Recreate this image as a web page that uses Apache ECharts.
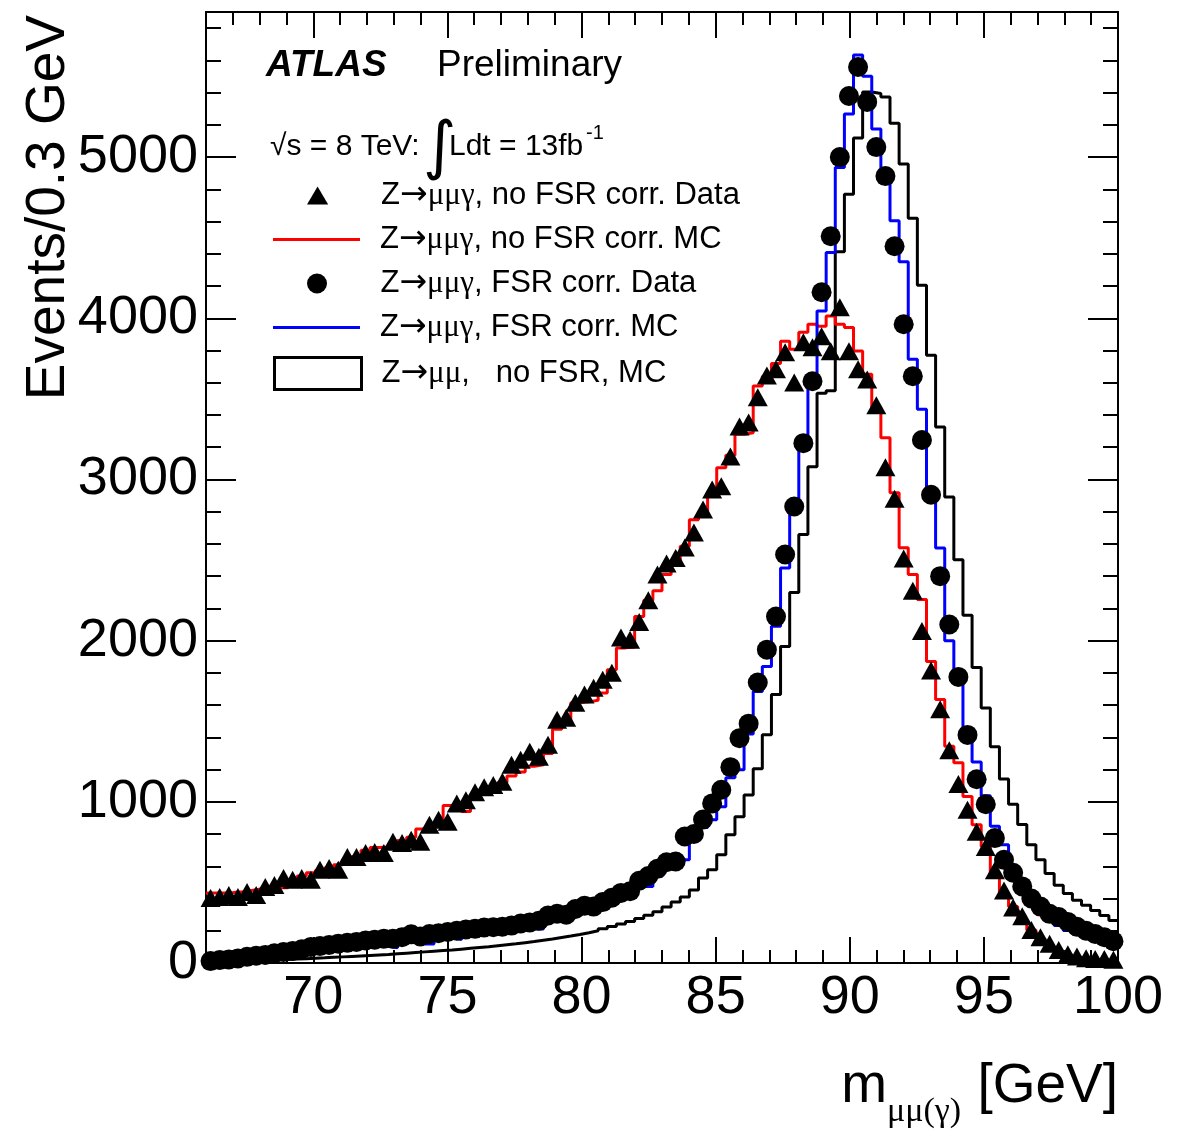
<!DOCTYPE html>
<html><head><meta charset="utf-8">
<script src="https://cdn.jsdelivr.net/npm/echarts@6/dist/echarts.min.js"></script>
<style>html,body{margin:0;padding:0;background:#fff}#c{width:1196px;height:1130px}</style>
</head><body><div id="c"></div>
<script>
// ---- binning (0.34 GeV bins, 66..100 GeV) ----
const binLow = 66, binWidth = 0.34, nBins = 100;

// ---- data (events per bin) ----
const dataNoFsrCorr = [404,410,422,410,441,422,472,484,528,516,
 528,516,578,590,578,658,658,683,689,683,
 752,745,764,752,857,888,876,990,1010,1060,
 1090,1105,1124,1230,1261,1311,1280,1354,1509,1522,
 1615,1665,1708,1758,1801,2019,2006,2115,2250,2410,
 2478,2512,2578,2671,2814,2938,2957,3143,3329,3354,
 3510,3645,3683,3789,3602,3851,3820,3888,3795,4068,
 3795,3683,3620,3460,3075,2880,2510,2310,2060,1815,
 1575,1320,1110,950,815,720,575,450,345,290,
 205,160,120,80,55,40,30,25,25,20];

const mcNoFsrCorr = [435,435,438,442,450,460,470,480,467,500,
 540,560,575,590,610,644,660,700,717,720,
 740,760,780,831,840,860,977,960,940,1018,
 1060,1090,1120,1160,1185,1220,1230,1300,1450,1500,
 1615,1620,1630,1675,1820,1955,1960,2150,2250,2310,
 2410,2480,2586,2750,2790,2900,3073,3150,3280,3290,
 3580,3640,3720,3857,3807,3913,3963,3950,4014,3963,
 3942,3797,3652,3430,3259,2917,2576,2410,2255,1871,
 1634,1345,1242,1033,857,722,557,420,350,250,
 205,150,105,75,50,35,25,20,15,12];

const dataFsrCorr = [12,18,22,28,38,45,50,60,68,75,
 85,100,105,112,120,125,130,140,145,150,
 150,160,178,165,180,185,192,200,208,212,
 220,222,225,232,245,252,262,295,305,300,
 335,355,350,378,405,435,445,510,540,585,
 625,630,785,800,890,990,1075,1215,1395,1485,
 1740,1944,2149,2534,2832,3225,3609,4161,4509,5000,
 5379,5559,5342,5062,4882,4447,3963,3640,3245,2905,
 2400,2100,1775,1415,1140,985,775,640,560,475,
 400,350,305,285,255,225,200,180,160,135];

const mcFsrCorr = [6,6,10,15,21,27,31,25,42,48,
 52,66,73,83,89,89,104,110,110,104,
 94,129,135,172,118,150,156,145,172,166,
 191,212,215,215,215,258,211,274,274,336,
 295,315,315,387,408,408,433,474,474,536,
 612,640,640,790,840,888,970,1150,1199,1420,
 1685,1840,2089,2451,2793,3217,3600,4045,4408,4936,
 5267,5634,5501,5174,4915,4605,4350,3745,3435,2935,
 2575,2000,1770,1456,1247,1038,849,734,588,473,
 389,326,274,232,201,180,159,149,128,117];

const mcNoFsr = [5,8,10,12,14,16,18,20,22,25,
 27,30,32,35,38,41,44,47,50,53,
 57,61,65,69,73,77,81,86,91,96,
 101,107,113,119,126,133,141,149,158,167,
 177,188,200,213,227,242,258,276,296,318,
 348,379,410,453,528,578,671,795,907,1043,
 1205,1416,1665,1963,2298,2658,3078,3535,3550,4413,
 4770,5118,5404,5395,5373,5210,4957,4620,4205,3770,
 3326,2891,2502,2157,1833,1582,1341,1142,985,860,
 734,640,556,483,431,389,358,326,295,264];

// ---- ticks / labels ----
const xMajorTicks = [70,75,80,85,90,95,100];
const xMinorTicks = [67,68,69,71,72,73,74,76,77,78,79,81,82,83,84,86,87,88,89,91,92,93,94,96,97,98,99];
const yMajorTicks = [0,1000,2000,3000,4000,5000];
const yMinorTicks = [200,400,600,800,1200,1400,1600,1800,2200,2400,2600,2800,3200,3400,3600,3800,4200,4400,4600,4800,5200,5400,5600,5800];

const legendParts = [
  ['Z','→','μμγ',', no FSR corr. Data'],
  ['Z','→','μμγ',', no FSR corr. MC'],
  ['Z','→','μμγ',', FSR corr. Data'],
  ['Z','→','μμγ',', FSR corr. MC'],
  ['Z','→','μμ',',   no FSR, MC']
];
const seriesNames = legendParts.map(p => p.join(''));

// ---- helpers ----
const binEdges = Array.from({length: nBins + 1}, (_, k) => +(binLow + binWidth * k).toFixed(3));
const binCenters = Array.from({length: nBins}, (_, k) => +(binLow + binWidth * (k + 0.5)).toFixed(3));
const histPts = vals => vals.map((v, k) => [binEdges[k], v]).concat([[binEdges[nBins], vals[nBins - 1]]]);
const pts = vals => vals.map((v, k) => [binCenters[k], v]);

const FONT = 'Liberation Sans, Arial, Helvetica, sans-serif';
const SERIF = 'Liberation Serif, DejaVu Serif, serif';
const XMIN = 66, XMAX = 100, YMIN = 0, YMAX = 5900;

function ax(kind, pos, ticks, len, labels) {
  return {
    type: 'value', min: kind === 'x' ? XMIN : YMIN, max: kind === 'x' ? XMAX : YMAX, position: pos,
    axisLine: {show: true, onZero: false, lineStyle: {color: '#000', width: 2}},
    axisTick: {show: true, inside: true, length: len, customValues: ticks, lineStyle: {color: '#000', width: 2}},
    axisLabel: labels ? {show: true, customValues: labels, fontSize: 54, fontFamily: FONT, color: '#000', margin: 8,
                         formatter: v => String(v)} : {show: false},
    splitLine: {show: false}
  };
}

const richLegend = {
  a: {fontSize: 31, fontFamily: FONT, color: '#000', lineHeight: 34, padding: [0, 0, 0, 15]},
  r: {fontSize: 33, fontFamily: 'DejaVu Sans, sans-serif', color: '#000', lineHeight: 34},
  g: {fontSize: 31, fontFamily: SERIF, color: '#000', lineHeight: 34},
  b: {fontSize: 31, fontFamily: FONT, color: '#000', lineHeight: 34}
};
function legendFmt(name) {
  const p = legendParts[seriesNames.indexOf(name)];
  return '{a|' + p[0] + '}{r|' + p[1] + '}{g|' + p[2] + '}{b|' + p[3] + '}';
}
const rowCenters = [196, 240, 284, 328, 373];
function mkLegend(i, left, itemH, dataItem) {
  return {
    show: true, orient: 'vertical', left: left, top: rowCenters[i] - 17, padding: 0,
    itemWidth: 87, itemHeight: itemH, symbolKeepAspect: true, selectedMode: false,
    formatter: legendFmt,
    textStyle: {fontSize: 31, fontFamily: FONT, color: '#000', rich: richLegend},
    data: [dataItem]
  };
}

const option = {
  animation: false,
  backgroundColor: '#fff',
  grid: {left: 206, right: 78, top: 12, bottom: 167, show: false},
  xAxis: [ax('x', 'bottom', xMajorTicks, 26, xMajorTicks), ax('x', 'bottom', xMinorTicks, 13, null),
          ax('x', 'top', xMajorTicks, 26, null), ax('x', 'top', xMinorTicks, 13, null)],
  yAxis: [ax('y', 'left', yMajorTicks, 30, yMajorTicks), ax('y', 'left', yMinorTicks, 15, null),
          ax('y', 'right', yMajorTicks, 30, null), ax('y', 'right', yMinorTicks, 15, null)],
  legend: [
    mkLegend(0, 307, 18, {name: seriesNames[0], icon: 'path://M10,0L20,17L0,17Z'}),
    mkLegend(1, 273, 3, {name: seriesNames[1], icon: 'rect', itemStyle: {color: '#ff0000', borderWidth: 0}}),
    mkLegend(2, 307, 20, {name: seriesNames[2], icon: 'circle'}),
    mkLegend(3, 273, 3, {name: seriesNames[3], icon: 'rect', itemStyle: {color: '#0000ff', borderWidth: 0}}),
    mkLegend(4, 273, 32, {name: seriesNames[4], icon: 'rect', itemStyle: {color: '#ffffff', borderColor: '#000000', borderWidth: 3}})
  ],
  series: [
    {name: seriesNames[4], type: 'line', step: 'end', data: histPts(mcNoFsr), symbol: 'none',
     lineStyle: {color: '#000', width: 3}, itemStyle: {color: '#000'}, z: 2},
    {name: seriesNames[1], type: 'line', step: 'end', data: histPts(mcNoFsrCorr), symbol: 'none',
     lineStyle: {color: '#ff0000', width: 3}, itemStyle: {color: '#ff0000'}, z: 3},
    {name: seriesNames[3], type: 'line', step: 'end', data: histPts(mcFsrCorr), symbol: 'none',
     lineStyle: {color: '#0000ff', width: 3}, itemStyle: {color: '#0000ff'}, z: 4},
    {name: seriesNames[0], type: 'scatter', data: pts(dataNoFsrCorr), symbol: 'triangle', symbolSize: [20, 18],
     itemStyle: {color: '#000', opacity: 1}, z: 5},
    {name: seriesNames[2], type: 'scatter', data: pts(dataFsrCorr), symbol: 'circle', symbolSize: 20,
     itemStyle: {color: '#000', opacity: 1}, z: 6}
  ],
  graphic: [
    {type: 'text', x: 49, y: 15, rotation: Math.PI / 2, z: 100,
     style: {text: 'Events/0.3 GeV', font: '55px ' + FONT, fill: '#000', align: 'right', verticalAlign: 'middle'}},
    {type: 'text', x: 887, y: 1087, z: 100,
     style: {text: 'm', font: '55px ' + FONT, fill: '#000', align: 'right', verticalAlign: 'middle'}},
    {type: 'text', x: 887, y: 1112, z: 100,
     style: {text: 'μμ(γ)', font: '34px ' + SERIF, fill: '#000', align: 'left', verticalAlign: 'middle'}},
    {type: 'text', x: 1118, y: 1087, z: 100,
     style: {text: '[GeV]', font: '55px ' + FONT, fill: '#000', align: 'right', verticalAlign: 'middle'}},
    {type: 'text', x: 266, y: 66, z: 100,
     style: {text: 'ATLAS', font: 'italic bold 37px ' + FONT, fill: '#000', align: 'left', verticalAlign: 'middle'}},
    {type: 'text', x: 437, y: 66, z: 100,
     style: {text: 'Preliminary', font: '37px ' + FONT, fill: '#000', align: 'left', verticalAlign: 'middle'}},
    {type: 'text', x: 270, y: 147, z: 100,
     style: {text: '√s = 8 TeV:', font: '30px ' + FONT, fill: '#000', align: 'left', verticalAlign: 'middle'}},
    {type: 'text', x: 423, y: 150, z: 100,
     style: {text: '∫', font: '64px DejaVu Sans, sans-serif', fill: '#000', align: 'left', verticalAlign: 'middle'}},
    {type: 'text', x: 449, y: 147, z: 100,
     style: {text: 'Ldt = 13fb', font: '30px ' + FONT, fill: '#000', align: 'left', verticalAlign: 'middle'}},
    {type: 'text', x: 586, y: 133, z: 100,
     style: {text: '-1', font: '20px ' + FONT, fill: '#000', align: 'left', verticalAlign: 'middle'}}
  ]
};

const chart = echarts.init(document.getElementById('c'), null, {renderer: 'canvas'});
chart.setOption(option);
</script>
</body></html>
